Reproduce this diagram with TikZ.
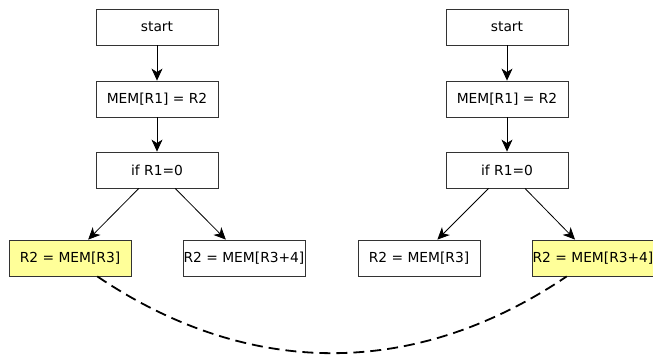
\documentclass[tikz,border=0pt]{standalone}
\usepackage{fontspec}
\setmainfont{DejaVu Sans}
\usetikzlibrary{arrows.meta}

\begin{document}
\begin{tikzpicture}[x=1pt,y=-1pt,
  box/.style={draw=black!80,line width=0.8pt,fill=white,minimum width=122pt,minimum height=36pt,inner sep=0pt,font=\fontsize{13.8}{16}\selectfont},
  hit/.style={box,fill={rgb,255:red,255;green,255;blue,153}},
  arr/.style={-{Stealth[length=12pt,width=11pt,inset=3.5pt]},line width=0.8pt}]
\useasboundingbox (0,0) rectangle (653,355);
% left program
\node [box] (startA) at (157,27) {start};
\node [box] (storeA) at (157,99) {MEM[R1] = R2};
\node [box] (ifA) at (157,170) {if R1=0};
\node [hit] (loadA) at (70,258) {R2 = MEM[R3]};
\node [box] (loadB) at (244,258) {R2 = MEM[R3+4]};
% right program
\node [box] (startB) at (507,27) {start};
\node [box] (storeB) at (507,99) {MEM[R1] = R2};
\node [box] (ifB) at (507,170) {if R1=0};
\node [box] (loadC) at (419,258) {R2 = MEM[R3]};
\node [hit] (loadD) at (593,258) {R2 = MEM[R3+4]};
\draw [arr] (startA) -- (storeA);
\draw [arr] (storeA) -- (ifA);
\draw [arr] (ifA) -- (loadA);
\draw [arr] (ifA) -- (loadB);
\draw [arr] (startB) -- (storeB);
\draw [arr] (storeB) -- (ifB);
\draw [arr] (ifB) -- (loadC);
\draw [arr] (ifB) -- (loadD);
\draw [line width=1.8pt,dash pattern=on 11pt off 6pt] (loadA.-34) to[bend right=34] (loadD.-145);
\end{tikzpicture}
\end{document}
